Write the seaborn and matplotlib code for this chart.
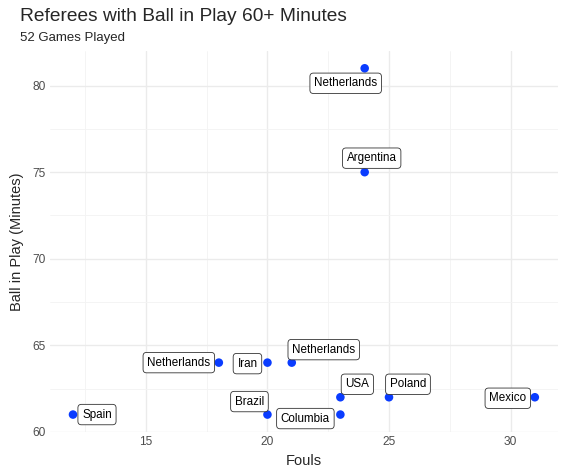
import matplotlib
matplotlib.use("Agg")
import matplotlib.pyplot as plt
import pandas as pd
import seaborn as sns
from matplotlib.ticker import MultipleLocator

# data
countries = ["Netherlands", "Argentina", "Netherlands", "Iran", "Netherlands",
             "USA", "Poland", "Mexico", "Spain", "Brazil", "Columbia"]
fouls = [24, 24, 18, 20, 21, 23, 25, 31, 12, 20, 23]
ball_in_play = [81, 75, 64, 64, 64, 62, 62, 62, 61, 61, 61]

# label offsets in pixels (repel-like placement)
label_offsets = [(-19, -15), (7, 14), (-40, 0), (-20, -1), (32, 13),
                 (17, 13), (19, 13), (-27, -1), (24, 0), (-18, 13), (-35, -4)]

df = pd.DataFrame({"country": countries, "fouls": fouls, "bip": ball_in_play})

sns.set_theme(style="white")
plt.rcParams["font.family"] = ["Liberation Sans", "DejaVu Sans"]

fig = plt.figure(figsize=(5.67, 4.72), dpi=100)
ax = fig.add_axes([0.088, 0.085, 0.896, 0.807])

sns.scatterplot(data=df, x="fouls", y="bip", ax=ax, color="#0A3CFF",
                s=38, edgecolor="none", zorder=3)

for i, row in df.iterrows():
    dx, dy = label_offsets[i]
    ax.annotate(row["country"], (row["fouls"], row["bip"]),
                xytext=(dx * 0.72, dy * 0.72), textcoords="offset points",
                ha="center", va="center", fontsize=8.4, color="black", zorder=4,
                bbox=dict(boxstyle="round,pad=0.36,rounding_size=0.3",
                          fc="white", ec="#333333", lw=0.6))

ax.set_xlim(11.05, 31.95)
ax.set_ylim(60, 82)
ax.xaxis.set_major_locator(MultipleLocator(5))
ax.xaxis.set_minor_locator(MultipleLocator(2.5))
ax.yaxis.set_major_locator(MultipleLocator(5))
ax.yaxis.set_minor_locator(MultipleLocator(2.5))
ax.grid(True, which="major", color="#EBEBEB", lw=1.0)
ax.grid(True, which="minor", color="#F3F3F3", lw=0.6)
ax.set_axisbelow(True)
for sp in ax.spines.values():
    sp.set_visible(False)
ax.tick_params(axis="both", which="both", length=0, labelsize=8.6, labelcolor="#4D4D4D", pad=3)

ax.set_xlabel("Fouls", fontsize=10.5, labelpad=4)
ax.set_ylabel("Ball in Play (Minutes)", fontsize=10.5, labelpad=6)

fig.text(0.035, 0.965, "Referees with Ball in Play 60+ Minutes", fontsize=13.8, va="center", ha="left")
fig.text(0.035, 0.919, "52 Games Played", fontsize=9.5, va="center", ha="left")

fig.savefig("out.png", dpi=100)
